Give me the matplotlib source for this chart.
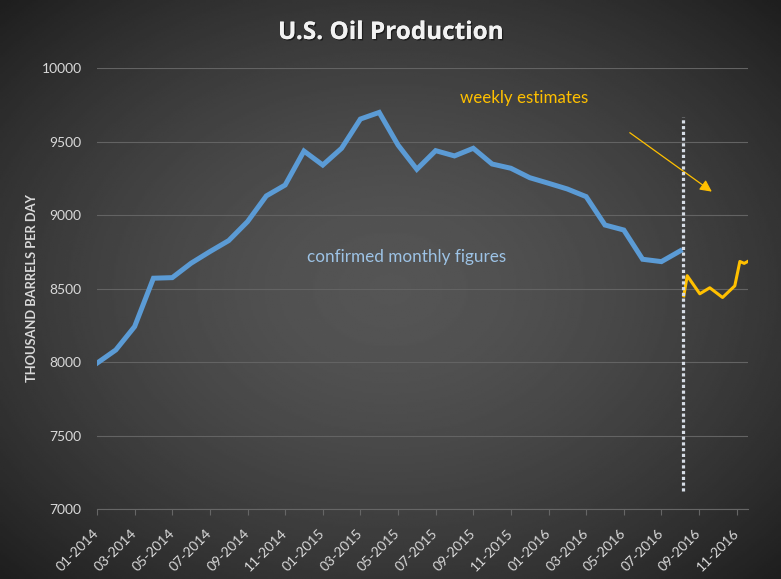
import numpy as np
import matplotlib.pyplot as plt
import matplotlib.patheffects as pe

# x tick labels, every 2nd month starting 01-2014
tick_labels = ["01-2014", "03-2014", "05-2014", "07-2014", "09-2014", "11-2014",
               "01-2015", "03-2015", "05-2015", "07-2015", "09-2015", "11-2015",
               "01-2016", "03-2016", "05-2016", "07-2016", "09-2016", "11-2016"]

# confirmed monthly figures, 01-2014 .. 08-2016 (thousand barrels per day)
monthly = [7994, 8084, 8243, 8572, 8576, 8674, 8753, 8828, 8957, 9132, 9206, 9437,
           9342, 9456, 9655, 9700, 9478, 9313, 9440, 9404, 9456, 9349, 9320, 9256,
           9218, 9179, 9127, 8934, 8900, 8701, 8685, 8758]

# weekly estimates (x in months since 01-2014)
weekly_x = [31.19, 31.37, 32.04, 32.57, 33.25, 33.90, 34.17, 34.40, 34.66]
weekly = [8452, 8589, 8466, 8507, 8441, 8520, 8686, 8673, 8691]

# dotted separator between monthly and weekly data
split_x = 31.15
split_lo, split_hi = 7125, 9670

plt.rcParams["font.family"] = ["Lato", "DejaVu Sans"]

fig = plt.figure(figsize=(7.81, 5.79), dpi=100)

# radial gradient background
bg = fig.add_axes([0, 0, 1, 1], zorder=-1)
yy, xx = np.mgrid[0:1:300j, 0:1:400j]
r = np.sqrt(((xx - 0.5) / 0.5) ** 2 + ((yy - 0.5) / 0.5) ** 2) / np.sqrt(2)
r = np.clip(r, 0, 1) ** 1.6
shade = 0x55 / 255 * (1 - r) + 0x1e / 255 * r
bg.imshow(shade, cmap="gray", vmin=0, vmax=1, extent=[0, 1, 0, 1], aspect="auto")
bg.axis("off")

ax = fig.add_axes([0.1242, 0.1204, 0.8335, 0.7616])
ax.patch.set_alpha(0)

ax.plot(range(len(monthly)), monthly, color="#5b9bd5", lw=3.6, solid_joinstyle="miter", zorder=3)
ax.plot(weekly_x, weekly, color="#ffc000", lw=2.2, zorder=3)
ax.plot([split_x, split_x], [split_lo, split_hi], color="#d6dce5", lw=2.3,
        linestyle=(0, (1, 0.8)), zorder=4)

ax.text(22.7, 9798, "weekly estimates", color="#ffc000", fontsize=12.2, ha="center", va="center")
ax.text(16.47, 8717, "confirmed monthly figures", color="#9dc3e6", fontsize=12.3, ha="center", va="center")
ax.annotate("", xy=(32.8, 9150), xytext=(28.2, 9573),
            arrowprops=dict(arrowstyle="-|>,head_length=0.7,head_width=0.35", color="#ffc000", lw=0.9))

ax.set_xlim(0, 34.6)
ax.set_ylim(7000, 10000)
ax.set_yticks(range(7000, 10001, 500))
ax.set_xticks(range(0, 35, 2))
ax.set_xticklabels(tick_labels, rotation=45, ha="right", va="center", rotation_mode="anchor")

ax.yaxis.grid(True, color="#636363", lw=0.8)
ax.set_axisbelow(True)
for s in ["top", "right", "left"]:
    ax.spines[s].set_visible(False)
ax.spines["bottom"].set_color("#666666")
ax.spines["bottom"].set_linewidth(0.8)
ax.tick_params(axis="y", length=0, pad=11, labelcolor="#d9d9d9", labelsize=10)
ax.tick_params(axis="x", length=4, width=0.8, color="#666666", pad=12, labelcolor="#d9d9d9", labelsize=10)

fig.text(0.5, 1 - 33 / 579, "U.S. Oil Production", ha="center", va="center", fontsize=17.5,
         weight="bold", color="#f2f2f2", family=["Open Sans", "DejaVu Sans"],
         path_effects=[pe.withSimplePatchShadow(offset=(1, -1), shadow_rgbFace="black", alpha=0.5), pe.Normal()])
fig.text(32 / 781, 1 - 288 / 579, "THOUSAND BARRELS PER DAY", rotation=90, ha="center", va="center",
         fontsize=9.3, weight="bold", color="#d9d9d9")

fig.savefig("out.png", dpi=100)
